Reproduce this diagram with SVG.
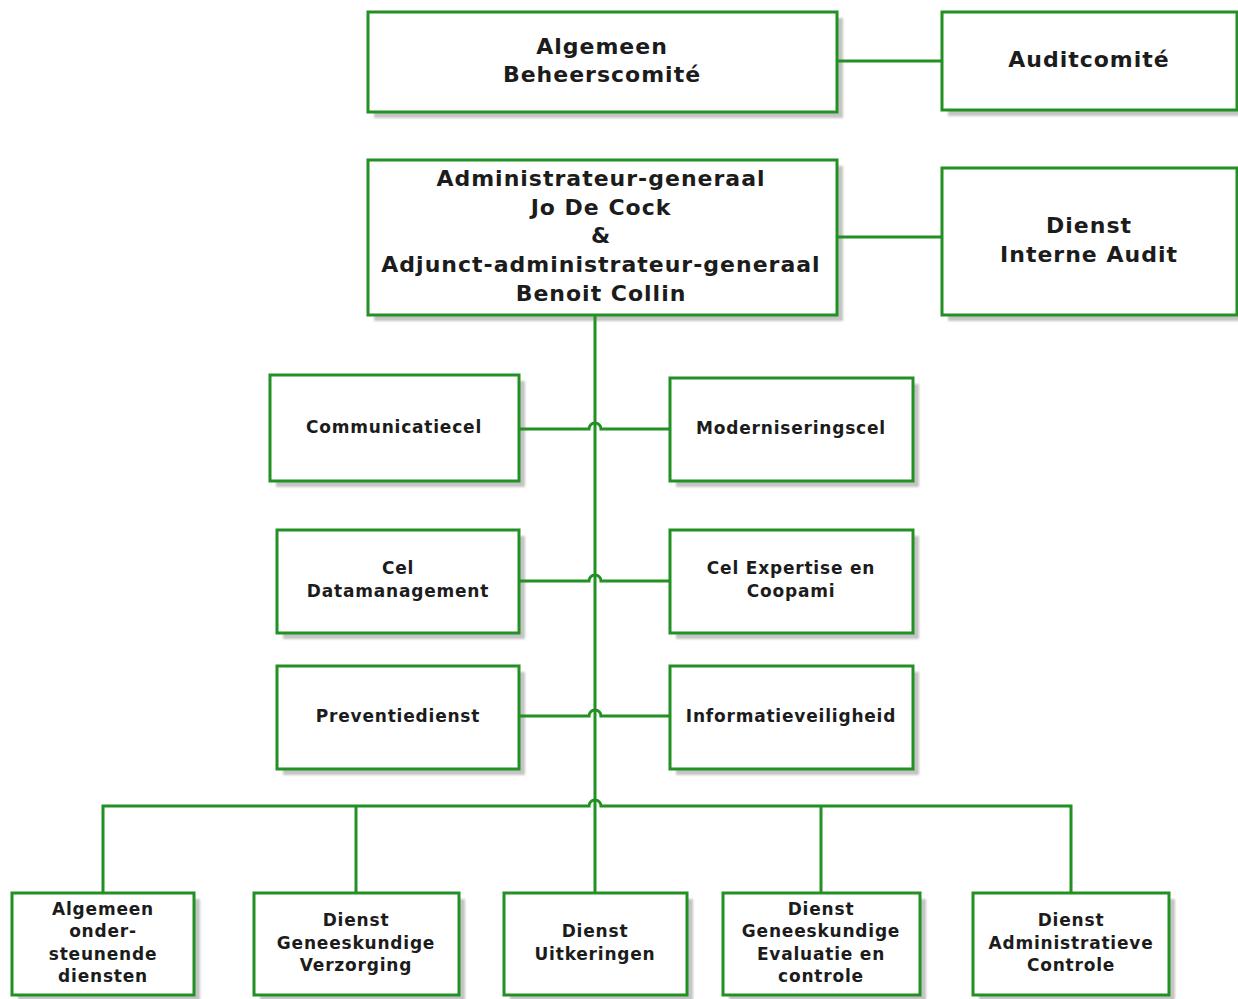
<svg xmlns="http://www.w3.org/2000/svg" width="1238" height="999" viewBox="0 0 1238 999">
<defs>
<filter id="blur" x="-5%" y="-5%" width="110%" height="110%"><feGaussianBlur stdDeviation="1.2"/></filter>
<style>
.box{fill:#fff;stroke:#229022;stroke-width:3}
.sh{fill:#c4c4c4;filter:url(#blur)}
.ln{fill:none;stroke:#229022;stroke-width:3}
text{font-family:"DejaVu Sans","Liberation Sans",sans-serif;font-weight:bold;fill:#1c1c1c;text-anchor:middle}
.big{font-size:22px;letter-spacing:1px}
.mid{font-size:17px;letter-spacing:0.8px}
</style>
</defs>
<rect width="1238" height="999" fill="#fff"/>
<g id="n1"><rect class="sh" x="374" y="18" width="469" height="100"/><rect class="box" x="368" y="12" width="469" height="100"/>
<text class="big" x="602" y="54">Algemeen</text><text class="big" x="602" y="82">Beheerscomité</text></g>
<g id="n2"><rect class="sh" x="948" y="18" width="295" height="98"/><rect class="box" x="942" y="12" width="295" height="98"/>
<text class="big" x="1089" y="67">Auditcomité</text></g>
<g id="n3"><rect class="sh" x="374" y="166" width="469" height="155"/><rect class="box" x="368" y="160" width="469" height="155"/>
<text class="big" x="601" y="186">Administrateur-generaal</text><text class="big" x="601" y="215">Jo De Cock</text><text class="big" x="601" y="243">&amp;</text><text class="big" x="601" y="272">Adjunct-administrateur-generaal</text><text class="big" x="601" y="301">Benoit Collin</text></g>
<g id="n4"><rect class="sh" x="948" y="174" width="295" height="147"/><rect class="box" x="942" y="168" width="295" height="147"/>
<text class="big" x="1089" y="233">Dienst</text><text class="big" x="1089" y="262">Interne Audit</text></g>
<g id="n5"><rect class="sh" x="276" y="381" width="249" height="106"/><rect class="box" x="270" y="375" width="249" height="106"/>
<text class="mid" x="394" y="433">Communicatiecel</text></g>
<g id="n6"><rect class="sh" x="676" y="384" width="243" height="103"/><rect class="box" x="670" y="378" width="243" height="103"/>
<text class="mid" x="791" y="434">Moderniseringscel</text></g>
<g id="n7"><rect class="sh" x="283" y="536" width="242" height="103"/><rect class="box" x="277" y="530" width="242" height="103"/>
<text class="mid" x="398" y="574">Cel</text><text class="mid" x="398" y="597">Datamanagement</text></g>
<g id="n8"><rect class="sh" x="676" y="536" width="243" height="103"/><rect class="box" x="670" y="530" width="243" height="103"/>
<text class="mid" x="791" y="574">Cel Expertise en</text><text class="mid" x="791" y="597">Coopami</text></g>
<g id="n9"><rect class="sh" x="283" y="672" width="242" height="103"/><rect class="box" x="277" y="666" width="242" height="103"/>
<text class="mid" x="398" y="722">Preventiedienst</text></g>
<g id="n10"><rect class="sh" x="676" y="672" width="243" height="103"/><rect class="box" x="670" y="666" width="243" height="103"/>
<text class="mid" x="791" y="722">Informatieveiligheid</text></g>
<g id="n11"><rect class="sh" x="18" y="899" width="182" height="102"/><rect class="box" x="12" y="893" width="182" height="102"/>
<text class="mid" x="103" y="915">Algemeen</text><text class="mid" x="103" y="937">onder-</text><text class="mid" x="103" y="960">steunende</text><text class="mid" x="103" y="982">diensten</text></g>
<g id="n12"><rect class="sh" x="260" y="899" width="205" height="102"/><rect class="box" x="254" y="893" width="205" height="102"/>
<text class="mid" x="356" y="926">Dienst</text><text class="mid" x="356" y="949">Geneeskundige</text><text class="mid" x="356" y="971">Verzorging</text></g>
<g id="n13"><rect class="sh" x="510" y="899" width="183" height="102"/><rect class="box" x="504" y="893" width="183" height="102"/>
<text class="mid" x="595" y="937">Dienst</text><text class="mid" x="595" y="960">Uitkeringen</text></g>
<g id="n14"><rect class="sh" x="729" y="899" width="197" height="102"/><rect class="box" x="723" y="893" width="197" height="102"/>
<text class="mid" x="821" y="915">Dienst</text><text class="mid" x="821" y="937">Geneeskundige</text><text class="mid" x="821" y="960">Evaluatie en</text><text class="mid" x="821" y="982">controle</text></g>
<g id="n15"><rect class="sh" x="979" y="899" width="196" height="102"/><rect class="box" x="973" y="893" width="196" height="102"/>
<text class="mid" x="1071" y="926">Dienst</text><text class="mid" x="1071" y="949">Administratieve</text><text class="mid" x="1071" y="971">Controle</text></g>
<g id="connectors">
<path class="ln" d="M837 61 H942"/>
<path class="ln" d="M837 237 H942"/>
<path class="ln" d="M595 315 V893"/>
<path class="ln" d="M519 429 H589 A6 6 0 0 1 601 429 H670"/>
<path class="ln" d="M519 581 H589 A6 6 0 0 1 601 581 H670"/>
<path class="ln" d="M519 716 H589 A6 6 0 0 1 601 716 H670"/>
<path class="ln" d="M103 893 V806 H589 A6 6 0 0 1 601 806 H1071 V893"/>
<path class="ln" d="M356 806 V893"/>
<path class="ln" d="M821 806 V893"/>
</g>
</svg>
